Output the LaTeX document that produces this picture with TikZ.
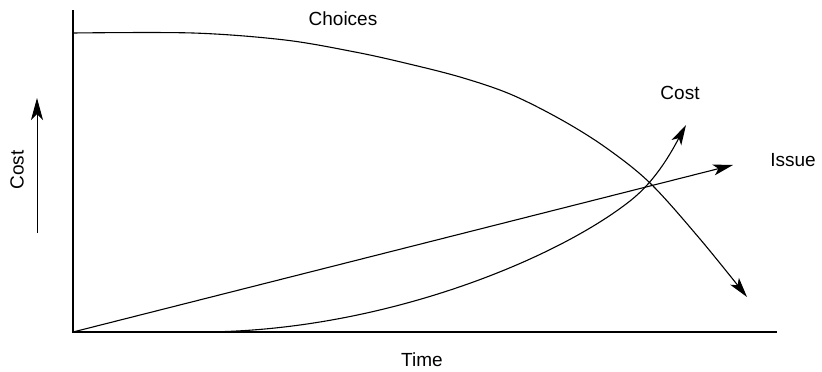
\documentclass[tikz,border=0pt]{standalone}
\usepackage{fontspec}
\setmainfont{Liberation Sans}
\usetikzlibrary{arrows.meta}
\begin{document}
\begin{tikzpicture}[x=1pt,y=-1pt,
  curve/.style={line width=1.1pt},
  axisline/.style={line width=1.3pt},
  tip/.style={-{Stealth[length=20pt,width=11pt,inset=5pt]}},
  lbl/.style={font=\fontsize{19}{22}\selectfont, inner sep=0pt}]
\useasboundingbox (0,0) rectangle (822,372);
% axes
\coordinate (O) at (73,332);
\coordinate (ytop) at (73,10);
\coordinate (xend) at (777,332);
\draw[axisline] (ytop) -- (O) -- (xend);
% choices curve
\coordinate (ch0) at (73,33);
\coordinate (chEnd) at (747,297);
\draw[curve,tip] plot[smooth,tension=0.55] coordinates {
  (ch0) (193,33) (285,40) (355,52) (405,63) (460,77) (510,94)
  (560,119) (605,147) (650,183) (700,239) (chEnd)};
% issue line
\coordinate (isEnd) at (733,165);
\draw[curve,tip] (O) -- (isEnd);
% cost curve
\coordinate (coEnd) at (686,125);
\draw[curve,tip] (O) -- (200,332)
  .. controls (380,332) and (555,260) .. (630,201)
  .. controls (657.7,179.3) and (674,147) .. (coEnd);
% vertical cost arrow
\coordinate (va0) at (37,233);
\coordinate (va1) at (37,98);
\draw[line width=1pt,-{Stealth[length=22pt,width=12pt,inset=6pt]}] (va0) -- (va1);
% labels
\node[lbl] (choices) at (343,19) {Choices};
\node[lbl] (costlbl) at (680,93) {Cost};
\node[lbl] (issue) at (793,160) {Issue};
\node[lbl] (time) at (422,360) {Time};
\node[lbl,rotate=90] (ylbl) at (17,170) {Cost};
\end{tikzpicture}
\end{document}
